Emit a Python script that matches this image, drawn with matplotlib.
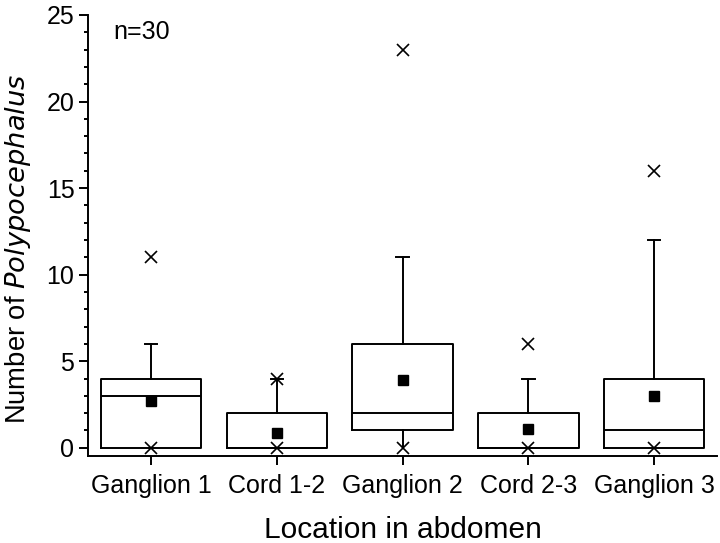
import matplotlib
matplotlib.use("Agg")
import matplotlib.pyplot as plt
from matplotlib.ticker import MultipleLocator

plt.rcParams["font.family"] = ["Liberation Sans", "DejaVu Sans"]

# data
locations = ["Ganglion 1", "Cord 1-2", "Ganglion 2", "Cord 2-3", "Ganglion 3"]
q1 = [0, 0, 1, 0, 0]
medians = [3, 0, 2, 0, 1]
q3 = [4, 2, 6, 2, 4]
whisk_lo = [0, 0, 0, 0, 0]
whisk_hi = [6, 4, 11, 4, 12]
means = [2.7, 0.85, 3.9, 1.1, 3.0]
mins = [0, 0, 0, 0, 0]
maxs = [11, 4, 23, 6, 16]

stats = []
for i, name in enumerate(locations):
    stats.append({
        "label": name,
        "q1": q1[i],
        "med": medians[i],
        "q3": q3[i],
        "whislo": whisk_lo[i],
        "whishi": whisk_hi[i],
        "mean": means[i],
        "fliers": [],
    })

fig = plt.figure(figsize=(7.2, 5.43), dpi=100)
ax = fig.add_axes([0.1226, 0.161, 0.873, 0.8114])

lw = 1.4
positions = list(range(1, len(locations) + 1))
bp = ax.bxp(
    stats,
    positions=positions,
    widths=0.8,
    showmeans=True,
    showfliers=False,
    boxprops=dict(color="black", linewidth=lw),
    medianprops=dict(color="black", linewidth=lw),
    whiskerprops=dict(color="black", linewidth=lw),
    capprops=dict(color="black", linewidth=lw),
    meanprops=dict(marker="s", markerfacecolor="black", markeredgecolor="black",
                   markersize=6.5),
    capwidths=0.1,
)
# no caps on the lower whiskers
for k, cap in enumerate(bp["caps"]):
    if k % 2 == 0:
        cap.set_visible(False)

# min / max markers
ax.plot(positions, mins, linestyle="none", marker="x", color="black",
        markersize=8, markeredgewidth=1.2)
ax.plot(positions, maxs, linestyle="none", marker="x", color="black",
        markersize=8, markeredgewidth=1.2)

ax.set_xlim(0.5, 5.5)
ax.set_ylim(-0.45, 25)
ax.yaxis.set_major_locator(MultipleLocator(5))
ax.yaxis.set_minor_locator(MultipleLocator(1))
ax.set_xticks(positions)
ax.set_xticklabels(locations)

for side in ["top", "right"]:
    ax.spines[side].set_visible(False)
for side in ["left", "bottom"]:
    ax.spines[side].set_linewidth(lw)

ax.tick_params(axis="both", which="major", direction="out", length=6.5, width=lw,
               labelsize=18, color="black")
ax.tick_params(axis="x", which="major", pad=6.5)
ax.tick_params(axis="y", which="minor", direction="out", length=3, width=lw)
ax.tick_params(axis="x", which="minor", bottom=False)

ax.set_ylabel("Number of $\\it{Polypocephalus}$", fontsize=19.7)
ax.yaxis.set_label_coords(-0.088, 0.47)
ax.set_xlabel("Location in abdomen", fontsize=21.5, labelpad=13.5)

ax.text(0.04, 0.962, "n=30", transform=ax.transAxes, fontsize=18,
        ha="left", va="center")

fig.savefig("out.png", dpi=100)
